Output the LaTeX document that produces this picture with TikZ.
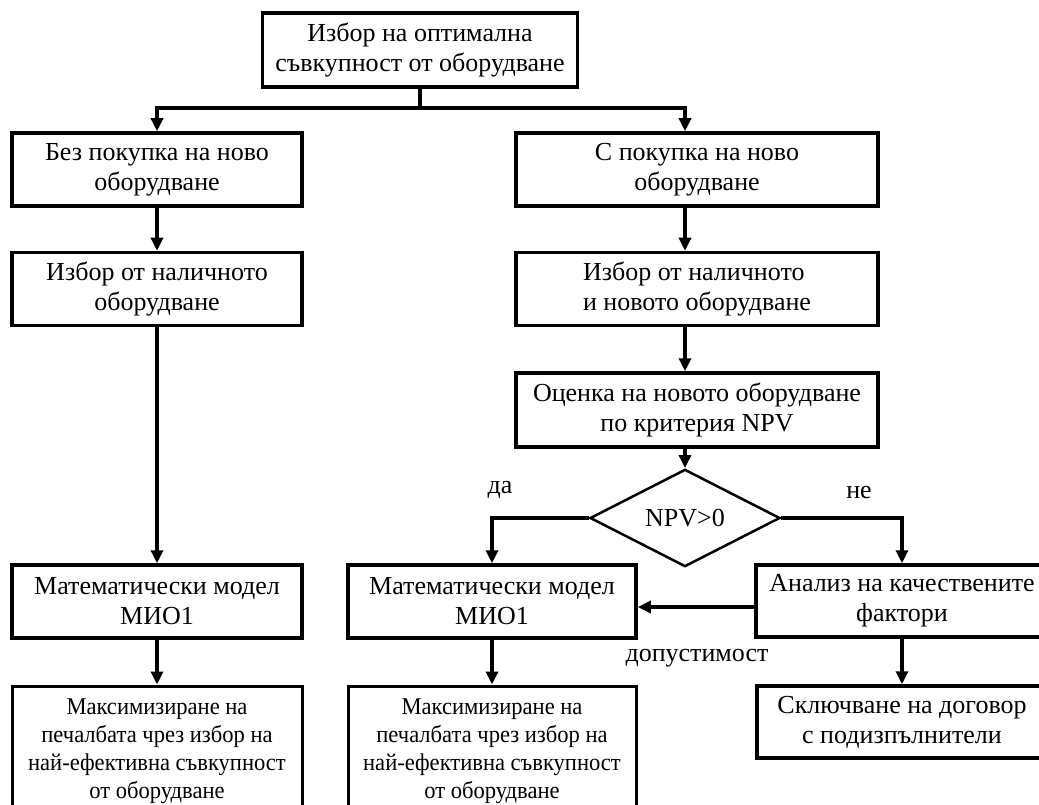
\documentclass[tikz,border=0pt]{standalone}
\usepackage{fontspec}
\setmainfont{Liberation Serif}
\newfontfamily\narrowserif[FakeStretch=0.94]{Liberation Serif}
\usetikzlibrary{arrows.meta, positioning, shapes.geometric}

\begin{document}
\begin{tikzpicture}[x=1pt, y=-1pt, font=\fontsize{26}{30}\selectfont,
    box/.style={draw, line width=3.5pt, minimum width=290pt, minimum height=73pt, inner sep=2pt, align=center},
    endbox/.style={box, line width=3pt, minimum height=130pt, font=\narrowserif\fontsize{24}{28}\selectfont},
    arr/.style={-{Triangle[length=13pt, width=12pt]}, line width=4pt},
    lbl/.style={inner sep=0pt}]
    \useasboundingbox (0,0) rectangle (1039,805);

    % Top: choice of the set of equipment
    \node[box, minimum width=315pt, minimum height=74pt] (top) at (420,50) {Избор на оптимална\\съвкупност от оборудване};
    \coordinate (split) at (420,108);

    % Left: without new equipment
    \node[box] (bez) at (157,169.5) {Без покупка на ново\\оборудване};
    \node[box] (izbL) at (157,289) {Избор от наличното\\оборудване};
    \node[box] (mmoL) at (157,601.5) {Математически модел\\МИО1};
    \node[endbox] (maxL) at (157,751) {Максимизиране на\\печалбата чрез избор на\\най-ефективна съвкупност\\от оборудване};

    % Right: with new equipment
    \node[box, minimum width=362pt] (spok) at (697,169.5) {С покупка на ново\\оборудване};
    \node[box, minimum width=362pt, align=left] (izbR) at (697,289) {Избор от наличното\\и новото оборудване};
    \node[box, minimum width=362pt, minimum height=74pt] (ocen) at (697,410) {Оценка на новото оборудване\\по критерия NPV};
    \node[draw, diamond, line width=2.5pt, minimum width=190pt, minimum height=96pt, inner sep=0pt] (npv) at (685,518) {NPV>0};
    \node[box, minimum width=288pt] (mmoR) at (492,601.5) {Математически модел\\МИО1};
    \node[endbox, minimum width=288pt] (maxR) at (492,751) {Максимизиране на\\печалбата чрез избор на\\най-ефективна съвкупност\\от оборудване};
    \node[box, minimum width=292pt, minimum height=72pt] (anal) at (902,601) {Анализ на качествените\\фактори};
    \node[box, minimum height=72pt] (skl) at (902,722) {Сключване на договор\\с подизпълнители};

    % Branch labels
    \node[lbl] (da) at (500,490) {да};
    \node[lbl] (ne) at (859,492) {не};
    \node[lbl] (dop) at (697,658) {допустимост};

    % Connectors
    \draw[line width=4pt] (top) -- (split);
    \draw[arr] (split) -| (bez);
    \draw[arr] (split) -| (npv.north |- spok.north);
    \draw[arr] (bez) -- (izbL);
    \draw[arr] (izbL) -- (mmoL);
    \draw[arr] (mmoL) -- (maxL);
    \draw[arr] (spok.south -| npv) -- (izbR.north -| npv);
    \draw[arr] (izbR.south -| npv) -- (ocen.north -| npv);
    \draw[arr] (ocen.south -| npv) -- (npv.north);
    \draw[arr] (npv.west) -| (mmoR);
    \draw[arr] (npv.east) -| (anal);
    \draw[arr] ([yshift=-6pt]anal.west) -- ([yshift=-6pt]anal.west -| mmoR.east);
    \draw[arr] (mmoR) -- (maxR);
    \draw[arr] (anal) -- (skl);
\end{tikzpicture}
\end{document}
